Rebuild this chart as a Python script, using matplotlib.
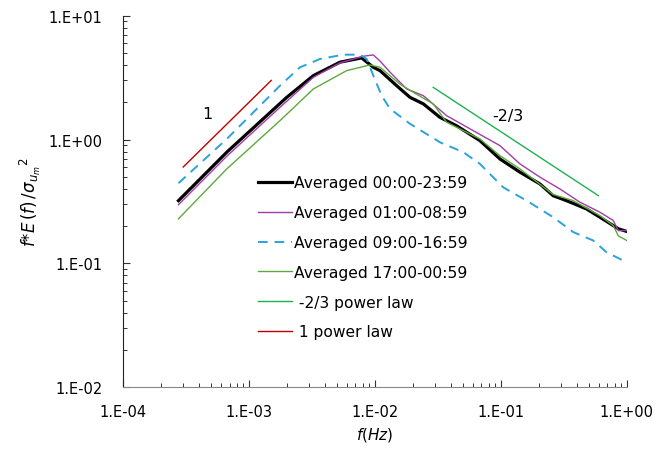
import matplotlib
matplotlib.use('Agg')
import matplotlib.pyplot as plt
from matplotlib.ticker import LogLocator, FixedFormatter, FixedLocator, NullFormatter

plt.rcParams['font.family'] = ['DejaVu Sans']
plt.rcParams['mathtext.fontset'] = 'dejavusans'

# averaged spectra
f_all = [2.75e-4, 6.65e-4, 1.99e-3, 3.24e-3, 5.27e-3, 7.83e-3, 9.7e-3, 0.01096, 0.01486, 0.01897,
         0.0242, 0.0328, 0.0445, 0.0681, 0.0982, 0.1416, 0.204, 0.260, 0.332, 0.479,
         0.611, 0.78, 0.86, 1.0]
y_all = [0.321, 0.790, 2.19, 3.28, 4.21, 4.56, 3.83, 3.6, 2.72, 2.19,
         1.94, 1.51, 1.29, 0.98, 0.697, 0.545, 0.438, 0.352, 0.321, 0.275,
         0.236, 0.202, 0.19, 0.181]

f_night = [2.75e-4, 6.65e-4, 1.76e-3, 3.24e-3, 5.27e-3, 8.07e-3, 9.7e-3, 0.01096, 0.01316,
           0.01784, 0.0242, 0.037, 0.0602, 0.0982, 0.1416, 0.204, 0.294, 0.424, 0.611,
           0.78, 0.855, 1.0]
y_night = [0.298, 0.733, 1.82, 3.18, 4.16, 4.70, 4.82, 4.3, 3.5,
           2.56, 2.26, 1.56, 1.18, 0.893, 0.636, 0.497, 0.399, 0.312, 0.259,
           0.222, 0.184, 0.184]

f_day = [2.75e-4, 6.65e-4, 1.76e-3, 2.54e-3, 3.66e-3, 5.6e-3, 7.6e-3, 8.6e-3, 9.7e-3,
         0.0113, 0.01316, 0.01897, 0.0328, 0.0503, 0.0681, 0.104, 0.160, 0.260, 0.375,
         0.541, 0.690, 1.0]
y_day = [0.444, 1.01, 2.72, 3.83, 4.47, 4.84, 4.84, 4.47, 3.28,
         2.26, 1.77, 1.34, 0.95, 0.79, 0.636, 0.412, 0.321, 0.236, 0.179,
         0.153, 0.123, 0.102]

f_eve = [2.75e-4, 6.65e-4, 1.76e-3, 3.24e-3, 5.96e-3, 9.12e-3, 0.01096, 0.01578, 0.0201,
         0.029, 0.037, 0.0681, 0.0982, 0.1416, 0.260, 0.375, 0.611, 0.78, 0.855,
         1.0]
y_eve = [0.229, 0.579, 1.42, 2.56, 3.60, 4.0, 3.83, 2.8, 2.41,
         1.94, 1.38, 1.01, 0.741, 0.579, 0.36, 0.321, 0.243, 0.202, 0.167,
         0.153]

# reference power laws
f_m23 = [0.029, 0.594]
y_m23 = [0.249 * f ** (-2 / 3) for f in f_m23]
f_p1 = [3.0e-4, 1.5e-3]
y_p1 = [2000 * f for f in f_p1]

fig = plt.figure(figsize=(6.55, 4.56), dpi=100)
ax = fig.add_axes([0.188, 0.1485, 0.769, 0.815])

ax.plot(f_all, y_all, color='black', lw=2.3, label='Averaged 00:00-23:59')
ax.plot(f_night, y_night, color='#A33BA8', lw=1.0, label='Averaged 01:00-08:59')
ax.plot(f_day, y_day, color='#29A3DC', lw=1.4, ls=(0, (5, 3.5)), label='Averaged 09:00-16:59')
ax.plot(f_eve, y_eve, color='#5BAA3C', lw=1.0, label='Averaged 17:00-00:59')
ax.plot(f_m23, y_m23, color='#1DB24E', lw=1.0, label=' -2/3 power law')
ax.plot(f_p1, y_p1, color='#C00000', lw=1.0, label=' 1 power law')

ax.text(4.64e-4, 1.61, '1', fontsize=11.5, ha='center', va='center')
ax.text(0.114, 1.56, '-2/3', fontsize=11.5, ha='center', va='center')

ax.set_xscale('log')
ax.set_yscale('log')
ax.set_xlim(1e-4, 1)
ax.set_ylim(1e-2, 10)

xt = [1e-4, 1e-3, 1e-2, 1e-1, 1]
yt = [1e-2, 1e-1, 1, 10]
ax.xaxis.set_major_locator(FixedLocator(xt))
ax.xaxis.set_major_formatter(FixedFormatter(['1.E-04', '1.E-03', '1.E-02', '1.E-01', '1.E+00']))
ax.yaxis.set_major_locator(FixedLocator(yt))
ax.yaxis.set_major_formatter(FixedFormatter(['1.E-02', '1.E-01', '1.E+00', '1.E+01']))
ax.xaxis.set_minor_locator(LogLocator(base=10, subs=range(2, 10)))
ax.yaxis.set_minor_locator(LogLocator(base=10, subs=range(2, 10)))
ax.xaxis.set_minor_formatter(NullFormatter())
ax.yaxis.set_minor_formatter(NullFormatter())

ax.tick_params(which='both', direction='in', colors='#333333', labelcolor='black', labelsize=10.5)
ax.tick_params(which='major', length=5, width=0.8)
ax.tick_params(which='minor', length=3, width=0.7)
ax.tick_params(axis='y', pad=15)
ax.tick_params(axis='x', pad=12)

for s in ['top', 'right']:
    ax.spines[s].set_visible(False)
ax.spines['left'].set_color('#222222')
ax.spines['bottom'].set_color('#888888')

ax.set_xlabel('$f$($Hz$)', fontsize=11, labelpad=4)
ax.set_ylabel(r'$f$*$E\,(f)\,/\sigma_{u_m}{}^{2}$', fontsize=12, labelpad=4)

ax.legend(loc='upper left', bbox_to_anchor=(0.268, 0.570), frameon=False, fontsize=11.2,
          handlelength=2.2, handletextpad=0.1, labelspacing=0.95, borderpad=0, borderaxespad=0)

fig.savefig('out.png', dpi=100)
